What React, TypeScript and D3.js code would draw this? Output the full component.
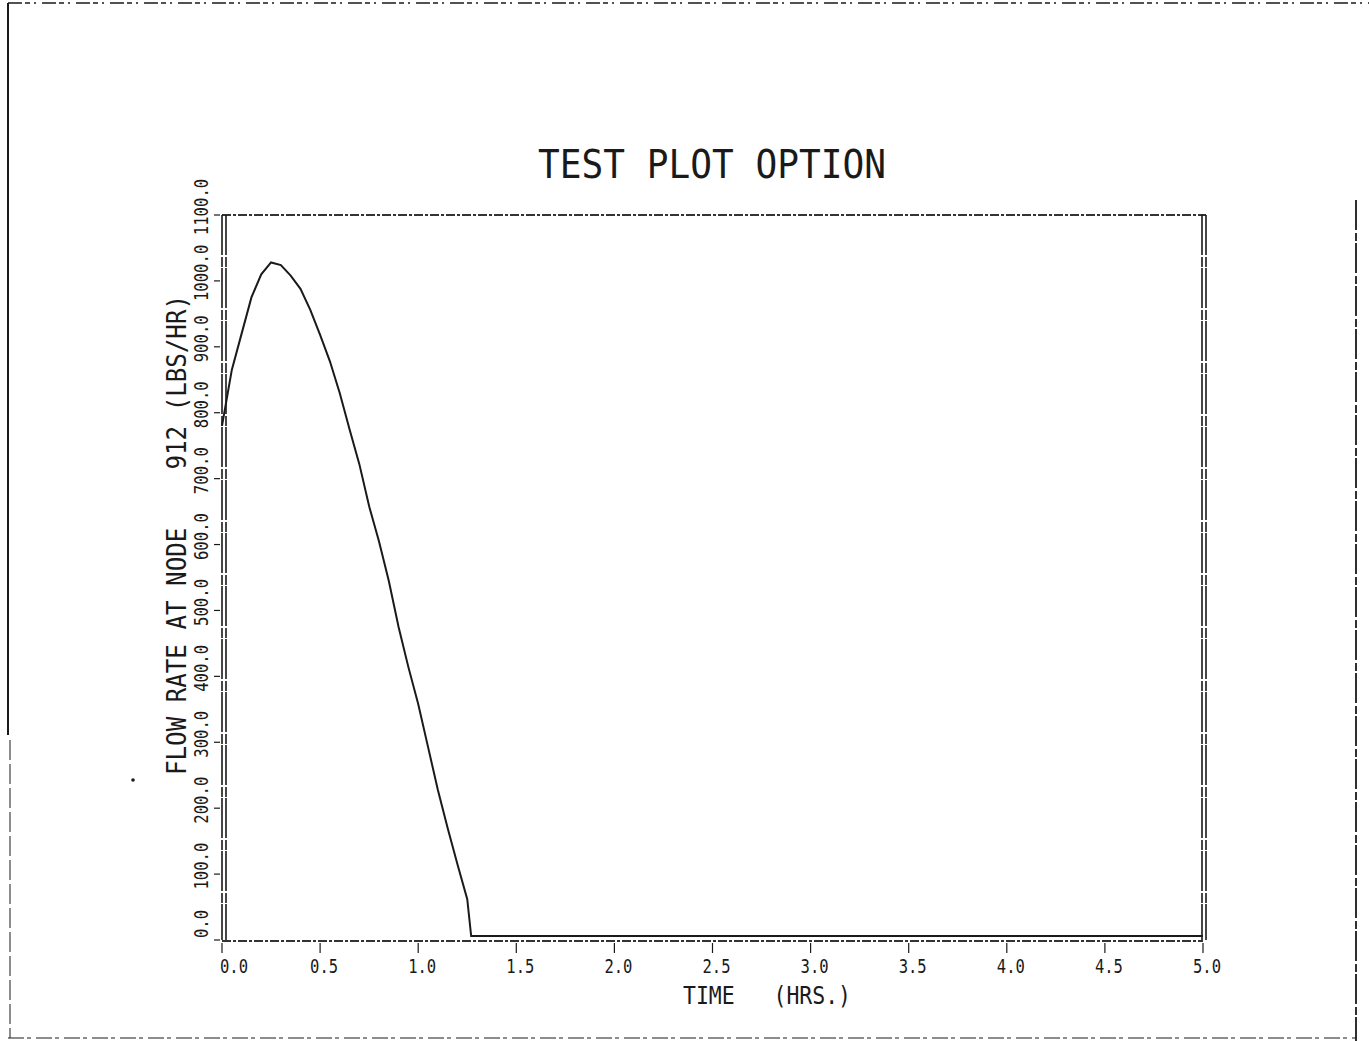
import React, { useEffect, useRef } from 'react';
import * as d3 from 'd3';

// time (hrs) vs flow rate (lbs/hr)
const times = [0.0, 0.05, 0.1, 0.15, 0.2, 0.25, 0.3, 0.35, 0.4, 0.45, 0.5, 0.55, 0.6, 0.65, 0.7, 0.75, 0.8, 0.85, 0.9, 0.95, 1.0, 1.05, 1.1, 1.15, 1.2, 1.25, 1.27, 1.5, 2.0, 3.0, 4.0, 5.0];
const flows = [780, 865, 920, 975, 1010, 1028, 1024, 1008, 988, 956, 918, 878, 830, 775, 722, 658, 605, 545, 475, 414, 358, 293, 228, 170, 115, 62, 6, 6, 6, 6, 6, 6];

const xTicks = [0, 0.5, 1.0, 1.5, 2.0, 2.5, 3.0, 3.5, 4.0, 4.5, 5.0];
const yTicks = [0, 100, 200, 300, 400, 500, 600, 700, 800, 900, 1000, 1100];

const title = 'TEST PLOT OPTION';
const xTitle = 'TIME   (HRS.)';
const yTitle = 'FLOW RATE AT NODE    912 (LBS/HR)';

const FONT = '"DejaVu Sans Mono", "Liberation Mono", monospace';
const INK = '#1a1a1a';

const App = () => {
    const svgRef = useRef(null);

    useEffect(() => {
        const width = 1369;
        const height = 1041;
        const plot = { left: 222, right: 1203, top: 215, bottom: 940 };

        const svg = d3.select(svgRef.current);
        svg.selectAll('*').remove();
        svg.attr('width', width).attr('height', height);

        svg.append('rect').attr('width', width).attr('height', height).attr('fill', 'white');

        const xScale = d3.scaleLinear().domain([0, 5]).range([plot.left, plot.right]);
        const yScale = d3.scaleLinear().domain([0, 1100]).range([plot.bottom, plot.top]);

        // page border (scanned sheet edges)
        const border = svg.append('g').attr('stroke', INK).attr('fill', 'none');
        border.append('line').attr('x1', 8).attr('x2', width).attr('y1', 3).attr('y2', 3)
            .attr('stroke-width', 1.5).attr('stroke-dasharray', '14 3 5 4 2 6');
        border.append('line').attr('x1', 8).attr('x2', 8).attr('y1', 3).attr('y2', 735)
            .attr('stroke-width', 2);
        border.append('line').attr('x1', 10).attr('x2', 10).attr('y1', 740).attr('y2', 1038)
            .attr('stroke-width', 1).attr('stroke-dasharray', '20 4');
        border.append('line').attr('x1', 8).attr('x2', 1356).attr('y1', 1038).attr('y2', 1038)
            .attr('stroke-width', 1.2).attr('stroke-dasharray', '16 3 4 5');
        border.append('line').attr('x1', 1356).attr('x2', 1356).attr('y1', 200).attr('y2', 1041)
            .attr('stroke-width', 1.8).attr('stroke-dasharray', '30 3 8 2');

        // plot frame
        const frame = svg.append('g').attr('fill', 'none');
        frame.append('line').attr('x1', plot.left).attr('x2', plot.right + 3)
            .attr('y1', plot.top).attr('y2', plot.top)
            .attr('stroke', '#333').attr('stroke-width', 2).attr('stroke-dasharray', '9 2 3 2');
        frame.append('line').attr('x1', plot.left).attr('x2', plot.right)
            .attr('y1', plot.bottom + 1).attr('y2', plot.bottom + 1)
            .attr('stroke', '#333').attr('stroke-width', 2).attr('stroke-dasharray', '9 2 3 2');
        [plot.left, plot.left + 4].forEach(x => {
            frame.append('line').attr('x1', x).attr('x2', x)
                .attr('y1', plot.top).attr('y2', plot.bottom)
                .attr('stroke', INK).attr('stroke-width', 1.6).attr('stroke-dasharray', '40 2 10 1');
        });
        [plot.right - 1, plot.right + 3].forEach(x => {
            frame.append('line').attr('x1', x).attr('x2', x)
                .attr('y1', plot.top).attr('y2', plot.bottom)
                .attr('stroke', INK).attr('stroke-width', 1.6).attr('stroke-dasharray', '40 2 10 1');
        });

        // x ticks + labels
        const xg = svg.append('g');
        xTicks.forEach(t => {
            xg.append('line').attr('x1', xScale(t)).attr('x2', xScale(t))
                .attr('y1', plot.bottom + 3).attr('y2', plot.bottom + 13)
                .attr('stroke', INK).attr('stroke-width', 1.2);
            xg.append('text')
                .attr('x', xScale(t) + (t === 0 ? 12 : 4))
                .attr('y', 973)
                .attr('text-anchor', 'middle')
                .attr('font-family', FONT)
                .attr('font-size', 20)
                .attr('fill', INK)
                .attr('textLength', 28)
                .attr('lengthAdjust', 'spacingAndGlyphs')
                .text(d3.format('.1f')(t));
        });

        svg.append('text')
            .attr('x', 683)
            .attr('y', 1004)
            .attr('font-family', FONT)
            .attr('font-size', 24)
            .attr('fill', INK)
            .attr('textLength', 168)
            .attr('lengthAdjust', 'spacingAndGlyphs')
            .style('white-space', 'pre')
            .text(xTitle);

        // y ticks + rotated labels
        const yg = svg.append('g');
        yTicks.forEach(v => {
            const y = yScale(v);
            yg.append('line').attr('x1', plot.left - 8).attr('x2', plot.left - 2)
                .attr('y1', y).attr('y2', y)
                .attr('stroke', INK).attr('stroke-width', 1.2);
            const label = d3.format('.1f')(v);
            yg.append('text')
                .attr('transform', `translate(208,${y - (v === 0 ? 16 : 8)}) rotate(-90)`)
                .attr('text-anchor', 'middle')
                .attr('font-family', FONT)
                .attr('font-size', 20)
                .attr('fill', INK)
                .attr('textLength', label.length * 9.4)
                .attr('lengthAdjust', 'spacingAndGlyphs')
                .text(label);
        });

        svg.append('text')
            .attr('transform', 'translate(186,775) rotate(-90)')
            .attr('font-family', FONT)
            .attr('font-size', 26)
            .attr('fill', INK)
            .attr('textLength', 480)
            .attr('lengthAdjust', 'spacingAndGlyphs')
            .style('white-space', 'pre')
            .text(yTitle);

        // title
        svg.append('text')
            .attr('x', 538)
            .attr('y', 178)
            .attr('font-family', FONT)
            .attr('font-size', 39)
            .attr('fill', INK)
            .attr('textLength', 348)
            .attr('lengthAdjust', 'spacingAndGlyphs')
            .text(title);

        // stray plotter dot
        svg.append('circle').attr('cx', 133).attr('cy', 780).attr('r', 1.8).attr('fill', INK);

        // flow curve
        const points = times.map((t, i) => ({ t, v: flows[i] }));
        const line = d3.line()
            .x(d => xScale(d.t))
            .y(d => yScale(d.v));

        svg.append('path')
            .datum(points)
            .attr('fill', 'none')
            .attr('stroke', INK)
            .attr('stroke-width', 2)
            .attr('d', line);
    }, []);

    return (
        <svg ref={svgRef} style={{ position: 'absolute', left: 0, top: 0, display: 'block' }}></svg>
    );
};

export default App;
